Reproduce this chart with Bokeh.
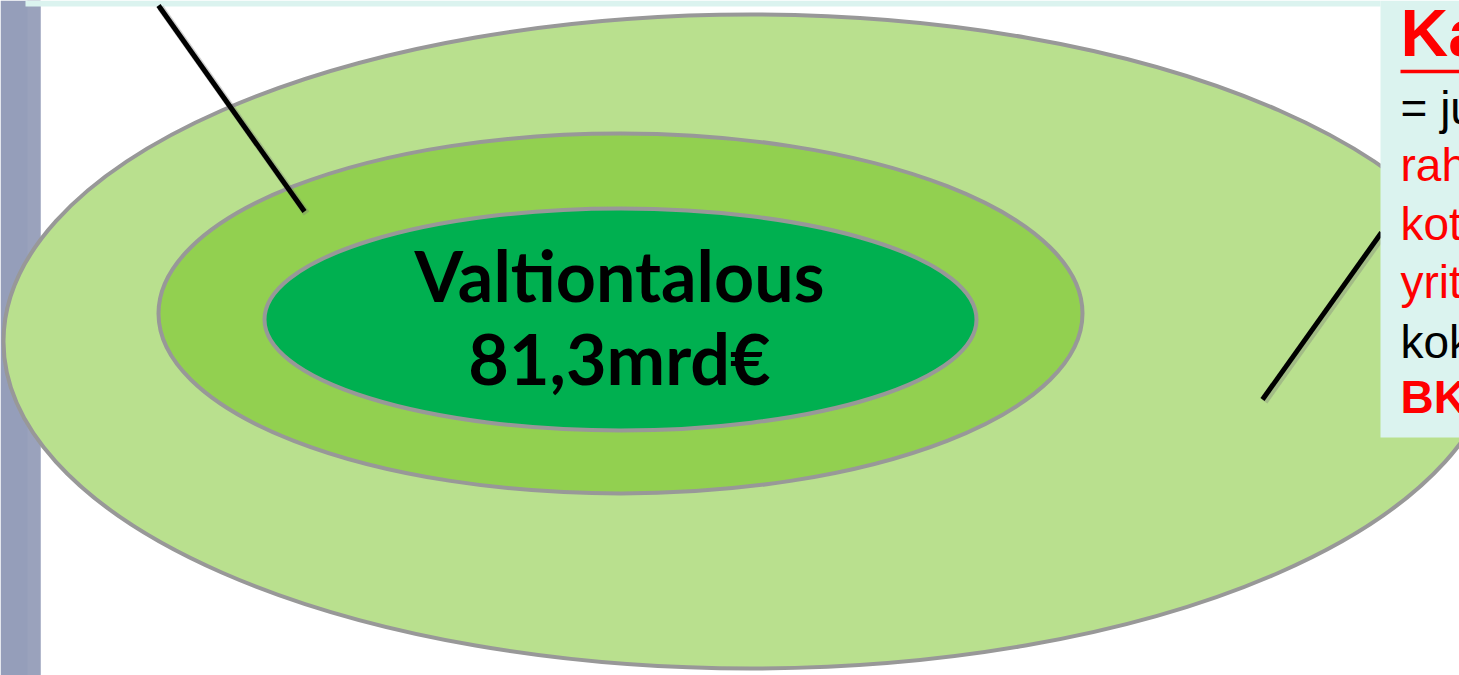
from bokeh.plotting import figure
from bokeh.models import Range1d
from bokeh.core.properties import value
from bokeh.embed import file_html
from bokeh.resources import INLINE

# ---- data (reference-image pixel coordinates) ----
# concentric rings: outer (kansantalous), middle (julkinen talous), inner (valtiontalous)
ring_cx = [750, 620, 620]
ring_cy = [341, 313, 319]
ring_w = [1494, 924, 712]
ring_h = [654, 360, 222]
ring_colors = ["#B9E08E", "#92D050", "#00B050"]

center_lines = ["Valtiontalous", "81,3mrd€"]
center_baselines = [274, 357]

# pointer lines
ptr_x0 = [158, 1381]
ptr_y0 = [5, 232]
ptr_x1 = [304, 1262]
ptr_y1 = [211, 399]

# right callout text (cropped by page edge)
box_title = "Kansantalous"
box_lines = ["= julkinen talous +", "rahoituslaitokset +", "kotitaloudet +",
             "yritykset", "kokonaistuotanto", "BKT"]
box_colors = ["#000000", "#FF0000", "#FF0000", "#FF0000", "#000000", "#FF0000"]
box_styles = ["normal", "normal", "normal", "normal", "normal", "bold"]
box_baselines = [107, 164, 223, 281, 341, 396]

# background panels: left bar, top band, right callout box
panel_left = [0, 25, 1380]
panel_right = [40, 1380, 1470]
panel_top = [0, 0, 0]
panel_bottom = [680, 6, 437]
panel_colors = ["#959EBA", "#DBF3EF", "#DBF3EF"]

# ---- figure ----
p = figure(width=1459, height=675, output_backend="svg", toolbar_location=None,
           x_range=Range1d(0, 1459), y_range=Range1d(675, 0),
           x_axis_location=None, y_axis_location=None, min_border=0,
           background_fill_color="white", border_fill_color="white")
p.outline_line_color = None
p.xgrid.visible = False
p.ygrid.visible = False

# left bar (two tones) + top band
p.quad(left=[panel_left[0]], right=[panel_right[0]], top=[panel_top[0]], bottom=[panel_bottom[0]],
       fill_color=panel_colors[0], line_color=None)
p.quad(left=[27], right=[40], top=[0], bottom=[680], fill_color="#9AA2BC", line_color=None)
p.quad(left=[panel_left[1]], right=[panel_right[1]], top=[panel_top[1]], bottom=[panel_bottom[1]],
       fill_color=panel_colors[1], line_color=None)

# rings
p.ellipse(x=ring_cx, y=ring_cy, width=ring_w, height=ring_h,
          fill_color=ring_colors, line_color="#989898", line_width=4)

# pointer lines with soft shadow
for i in range(len(ptr_x0)):
    p.line([ptr_x0[i] + 2, ptr_x1[i] + 2], [ptr_y0[i] + 2, ptr_y1[i] + 2],
           line_color="#777777", line_alpha=0.35, line_width=7)
    p.line([ptr_x0[i], ptr_x1[i]], [ptr_y0[i], ptr_y1[i]],
           line_color="black", line_width=5)

# center label
p.text(x=[619] * len(center_lines), y=center_baselines, text=center_lines,
       text_font=value("Lato"), text_font_style="bold", text_font_size="70px",
       text_color="black", text_align="center", text_baseline="alphabetic")

# right callout box
p.quad(left=panel_left[2:], right=panel_right[2:], top=panel_top[2:], bottom=panel_bottom[2:],
       fill_color=panel_colors[2:], line_color=None)
p.text(x=[1400], y=[32], text=[box_title], text_font=value("Liberation Sans"),
       text_font_style="bold", text_font_size="66px", text_color="#FF0000",
       text_baseline="alphabetic")
p.line([1400, 1470], [71, 71], line_color="#FF0000", line_width=3.5)
for i in range(len(box_lines)):
    p.text(x=[1400], y=[box_baselines[i]], text=[box_lines[i]],
           text_font=value("Liberation Sans"), text_font_style=box_styles[i],
           text_font_size="46px", text_color=box_colors[i], text_baseline="alphabetic")

open("out.html", "w").write(file_html(p, INLINE))
